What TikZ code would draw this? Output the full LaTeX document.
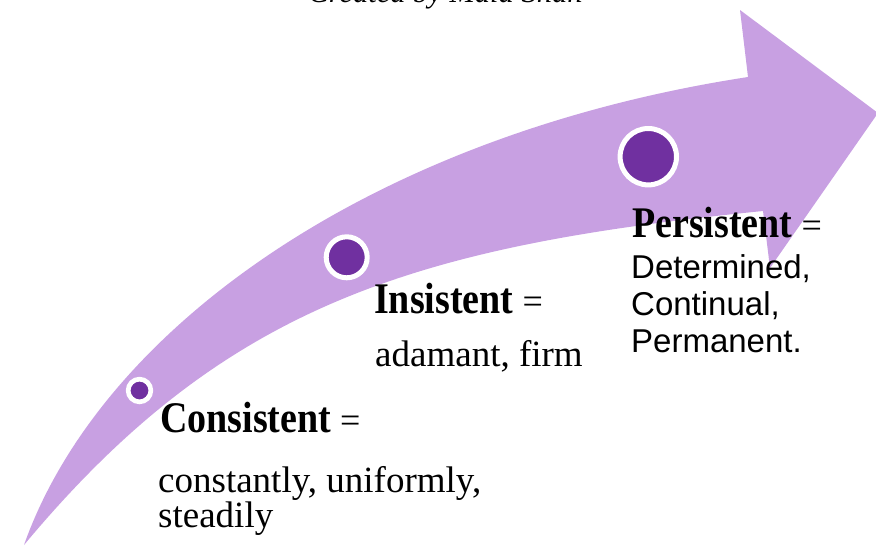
\documentclass[tikz,border=0pt]{standalone}
\usepackage{fontspec}
\setmainfont{Liberation Serif}
\newfontfamily\sansf{Liberation Sans}
\definecolor{lightp}{HTML}{C8A0E2}
\definecolor{darkp}{HTML}{7030A0}
\newcommand{\headtxt}[1]{\scalebox{1}[1.15]{\fontsize{38}{38}\selectfont\textbf{#1}}{\fontsize{36}{36}\selectfont\ =}}
\begin{document}
\begin{tikzpicture}[x=1pt,y=-1pt,
  head/.style={anchor=base west,inner sep=0pt},
  body/.style={anchor=base west,inner sep=0pt,font=\fontsize{37}{37}\selectfont},
  sbody/.style={anchor=base west,inner sep=0pt,font=\sansf\fontsize{33}{33}\selectfont},
  ring/.style={circle,fill=darkp,draw=white,inner sep=0pt}]
\useasboundingbox (0,0) rectangle (876,546);
\clip (0,0) rectangle (876,546);
\fill[lightp] (24,545) .. controls (100,330) and (370,135) .. (748,77)
  -- (740,10) -- (878,113) -- (770,268) -- (763,211)
  .. controls (413,246) and (224,305) .. (24,545) -- cycle;
\node[ring,minimum size=22.7pt,line width=4.7pt] (c1) at (139.5,390.5) {};
\node[ring,minimum size=41pt,line width=5pt] (c2) at (346.7,257.3) {};
\node[ring,minimum size=56.4pt,line width=5pt] (c3) at (648.3,156.7) {};
\node[anchor=base,inner sep=0pt,font=\itshape\fontsize{30.5}{30}\selectfont] (title) at (445.5,2) {Created by Mala Shah};
\node[head] (h1) at (160,432) {\headtxt{Consistent}};
\node[body] (b1a) at (158,492) {constantly, uniformly,};
\node[body] (b1b) at (158,527) {steadily};
\node[head] (h2) at (374,313) {\headtxt{Insistent}};
\node[body] (b2) at (375,366) {adamant, firm};
\node[head] (h3) at (632,237) {\headtxt{Persistent}};
\node[sbody] (b3a) at (631,278) {Determined,};
\node[sbody] (b3b) at (631,315) {Continual,};
\node[sbody] (b3c) at (631,352) {Permanent.};
\end{tikzpicture}
\end{document}
